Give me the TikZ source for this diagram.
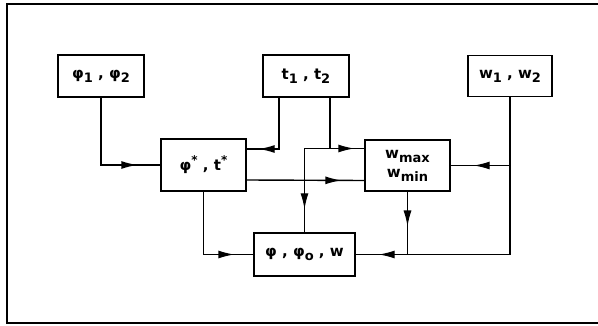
\documentclass[tikz,border=0pt]{standalone}
\usepackage{fontspec}
\setmainfont{DejaVu Sans}
\usetikzlibrary{positioning,calc,decorations.markings,arrows.meta}

\newcommand{\lo}[1]{\raisebox{-4pt}{\fontsize{13}{13}\selectfont #1}}
\newcommand{\hi}[1]{\raisebox{6pt}{\fontsize{12}{12}\selectfont #1}}

\tikzset{
  blk/.style={draw, line width=1.4pt, inner sep=2pt, font=\fontsize{15}{17}\selectfont\bfseries},
  arr/.style={postaction={decorate}, decoration={markings, mark=at position #1 with {\arrow{Latex[length=16pt,width=8pt]}}}},
  arr/.default=-23pt
}

\begin{document}
\begin{tikzpicture}[x=1pt, y=-1pt, line width=1.4pt]
\useasboundingbox (0,0) rectangle (598,326);
\draw[line width=1.8pt] (598,4) -- (7,4) -- (7,323) -- (598,323);
% input boxes
\node[blk, minimum width=86pt, minimum height=42pt] (pp) at (101,76) {φ\lo{1} , φ\lo{2}};
\node[blk, minimum width=86pt, minimum height=42pt] (tt) at (306,76) {t\lo{1} , t\lo{2}};
\node[blk, minimum width=84pt, minimum height=41pt] (ww) at (510,76) {w\lo{1} , w\lo{2}};
% middle and lower boxes
\node[blk, minimum width=85pt, minimum height=52pt] (st) at (203.5,165) {φ\hi{*} , t\hi{*}};
\node[blk, minimum width=85pt, minimum height=51pt, align=center] (wm) at (407.5,165.5) {w\lo{max}\\[2pt]w\lo{min}};
\node[blk, minimum width=101pt, minimum height=43pt] (pw) at (304.5,254.5) {φ , φ\lo{o} , w};
\coordinate (tj) at ($(pw.north |- wm.west)+(0,-17)$);
% connectors
\draw[arr] (pp.south) |- (st.west);
\draw[arr=-12pt] ($(tt.south)+(-27,0)$) |- ($(st.east)+(0,-16)$);
\draw ($(tt.south)+(24,0)$) |- (tj);
\draw[arr=-10pt] (tj) -- (tj -| wm.west);
\draw[arr] (tj) -- (pw.north);
\draw[arr] ($(st.east)+(0,15)$) -- ($(wm.west)+(0,15)$);
\draw[arr=-19pt] (st.south) |- (pw.west);
\draw[arr] (ww.south) |- (pw.east);
\draw[arr] (ww.south |- wm.east) -- (wm.east);
\draw[arr=-28pt] (wm.south) -- (wm.south |- pw.east);
\end{tikzpicture}
\end{document}
